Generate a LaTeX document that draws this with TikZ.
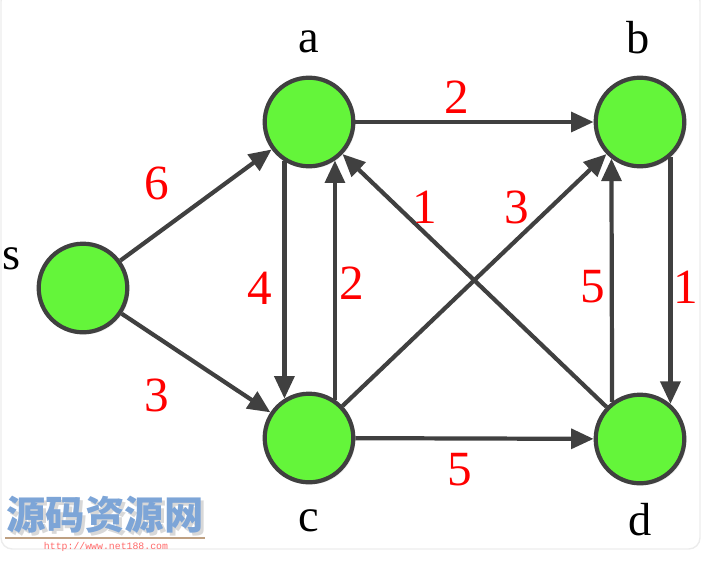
\documentclass[tikz,border=0pt]{standalone}
\usepackage{fontspec}
\setmainfont{Liberation Serif}
\newfontfamily\cjk{Noto Sans CJK SC}
\newfontfamily\urlfont{Liberation Mono}
\usetikzlibrary{arrows.meta,shadows}
\definecolor{vgreen}{RGB}{100,245,58}
\definecolor{edgegray}{RGB}{64,64,64}
\definecolor{wmblue}{RGB}{125,165,215}
\definecolor{wmtan}{RGB}{190,160,130}
\definecolor{wmred}{RGB}{255,105,105}

\begin{document}
\begin{tikzpicture}[x=0.025cm,y=-0.025cm,>={Triangle[length=16pt,width=14pt]},
  vertex/.style={circle,draw=edgegray,line width=3pt,fill=vgreen,minimum size=63pt,inner sep=0pt,
    drop shadow={opacity=0.15,shadow xshift=1.5pt,shadow yshift=-1.5pt}},
  edge/.style={->,line width=3pt,draw=edgegray},
  wt/.style={text=red,font=\fontsize{35}{38}\selectfont,inner sep=0pt},
  vname/.style={font=\fontsize{33}{36}\selectfont,inner sep=0pt,anchor=base},
  wm/.style={font=\cjk\bfseries\fontsize{28}{30}\selectfont,inner sep=0pt}]
  \useasboundingbox (0,0) rectangle (721,560);
  \clip (0,0) rectangle (721,560);
  % frame
  \draw[gray!15,line width=1pt,rounded corners=8pt] (1,-10) rectangle (700,549);

  % vertices
  \node[vertex] (s) at (83,288) {};
  \node[vertex] (a) at (309,122) {};
  \node[vertex] (b) at (640,122) {};
  \node[vertex] (c) at (309,438) {};
  \node[vertex] (d) at (640,439) {};

  \node[vname] (ns) at (12,269) {s};
  \node[vname] (na) at (309,52) {a};
  \node[vname] (nb) at (638,53) {b};
  \node[vname] (nc) at (309,531) {c};
  \node[vname] (nd) at (640,535) {d};

  % edges
  \draw[edge] (s) -- (a);
  \draw[edge] (s) -- (c);
  \draw[edge] (a) -- (b);
  \draw[edge] (a.238) -- (c.122);
  \draw[edge] (c.56) -- (a.304);
  \draw[edge] (d) -- (a);
  \draw[edge] (c) -- (b);
  \draw[edge] (c) -- (d);
  \draw[edge] (d.127.5) -- (b.232.5);
  \draw[edge] (b.311) -- (d.49);

  % weights
  \node[wt] (wsa) at (157,183) {6};
  \node[wt] (wsc) at (157,395) {3};
  \node[wt] (wab) at (457,97) {2};
  \node[wt] (wac) at (260,288) {4};
  \node[wt] (wca) at (352,283) {2};
  \node[wt] (wda) at (425,207) {1};
  \node[wt] (wcb) at (517,207) {3};
  \node[wt] (wcd) at (460,470) {5};
  \node[wt] (wdb) at (593,287) {5};
  \node[wt] (wbd) at (686,287) {1};

  % watermark
  \node[wm,text=gray!60,opacity=0.5] (wmshadow) at (108,518) {源码资源网};
  \node[wm,text=wmblue] (wmark) at (105,515) {源码资源网};
  \draw[wmtan,line width=0.8pt] (5,538) -- (205,538);
  \node[font=\urlfont\fontsize{7}{8}\selectfont,text=wmred,inner sep=0pt] (url) at (106,547) {http://www.net188.com};
\end{tikzpicture}
\end{document}
